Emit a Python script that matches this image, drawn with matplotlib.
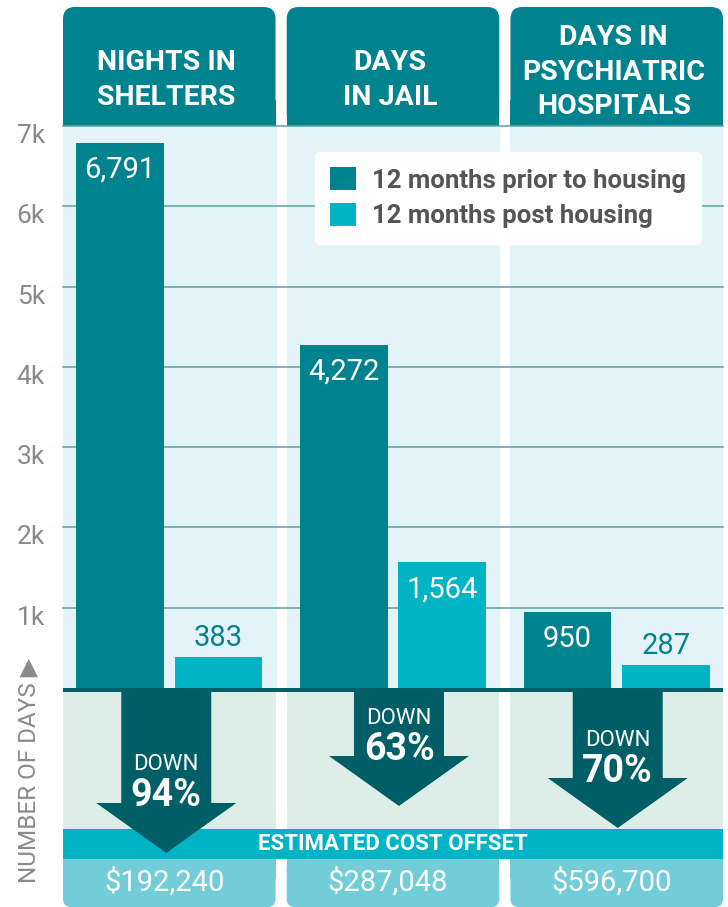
import matplotlib.pyplot as plt
from matplotlib.patches import Rectangle, FancyBboxPatch, Polygon, Patch

# Data
categories = ["NIGHTS IN\nSHELTERS", "DAYS\nIN JAIL", "DAYS IN\nPSYCHIATRIC\nHOSPITALS"]
prior = [6791, 4272, 950]
post = [383, 1564, 287]
pct_down = [94, 63, 70]
cost_offset = ["$192,240", "$287,048", "$596,700"]
series_labels = ["12 months prior to housing", "12 months post housing"]
y_ticks = [1000, 2000, 3000, 4000, 5000, 6000, 7000]
y_tick_labels = ["1k", "2k", "3k", "4k", "5k", "6k", "7k"]

# Colours
DARK = "#00838F"
LIGHT = "#00B4C5"
DEEP = "#005F66"
BG_TOP = "#E3F3F8"
BG_LOW = "#DCEEE7"
COST_BG = "#72CDD9"
GRID = "#5E9FA5"
GRAY = "#8A8A8A"

FAM = ["Roboto", "DejaVu Sans"]
plt.rcParams["font.family"] = FAM

W, H = 728, 907
fig = plt.figure(figsize=(W / 100, H / 100), dpi=100)

# pixel-space layer for the decorations around the chart
bg = fig.add_axes([0, 0, 1, 1])
bg.set_xlim(0, W)
bg.set_ylim(H, 0)
bg.axis("off")
bg.set_zorder(1)

# chart area
AX_L, AX_R, AX_T, AX_B = 63, 723, 126, 688
ax = fig.add_axes([AX_L / W, (H - AX_B) / H, (AX_R - AX_L) / W, (AX_B - AX_T) / H])
ax.set_zorder(2)
ax.patch.set_visible(False)
half = 0.475
ax.set_xlim(-half, len(categories) - 1 + half)
ax.set_ylim(0, 7000)
for s in ax.spines.values():
    s.set_visible(False)
ax.set_xticks([])
ax.set_yticks([])

unit = (AX_R - AX_L) / (len(categories) - 1 + 2 * half)


def px(u):
    return AX_L + (u + half) * unit


# panel backgrounds and gridlines
for i in range(len(categories)):
    ax.add_patch(Rectangle((i - half, 0), 2 * half, 7000, color=BG_TOP, zorder=0))
for v in y_ticks:
    ax.axhline(v, color=GRID, lw=1.1, zorder=1, clip_on=False)

# bars
x = list(range(len(categories)))
off, bw = 0.22, 0.393
ax.bar([i - off for i in x], prior, width=bw, color=DARK, zorder=2, label=series_labels[0])
ax.bar([i + off for i in x], post, width=bw, color=LIGHT, zorder=2, label=series_labels[1])

# value labels
for i in x:
    for xv, v in [(i - off, prior[i]), (i + off, post[i])]:
        if v > 600:
            ax.annotate(f"{v:,}", xy=(xv, v), xytext=(0, -27), textcoords="offset pixels",
                        ha="center", va="center", color="white", fontsize=21)
        else:
            ax.annotate(f"{v:,}", xy=(xv, v), xytext=(0, 19), textcoords="offset pixels",
                        ha="center", va="center", color=DARK, fontsize=21)

# y tick labels
for v, lab in zip(y_ticks, y_tick_labels):
    ax.annotate(lab, xy=(0, v), xycoords=("axes fraction", "data"), xytext=(-18, -10),
                textcoords="offset pixels", ha="right", va="center", color=GRAY, fontsize=19)

# legend
handles = [Patch(facecolor=DARK), Patch(facecolor=LIGHT)]
leg = ax.legend(handles, series_labels, loc="upper left",
                bbox_to_anchor=(315 / W, 1 - 152 / H), bbox_transform=fig.transFigure,
                borderaxespad=0, borderpad=0.6, handlelength=1.0, handleheight=1.0,
                handletextpad=0.6, labelspacing=0.4, frameon=True, fancybox=True,
                facecolor="white", edgecolor="white", framealpha=1,
                prop={"family": FAM, "weight": "bold", "size": 18.5}, labelcolor="#555555")
leg.set_zorder(5)

# headers, lower panels, arrows, cost boxes
header_y = [80, 80, 72]
arrow_head = [803, 756, 778]
arrow_cx_shift = [-3, 6, 1]
for i, name in enumerate(categories):
    l, r = px(i - half), px(i + half)
    w = r - l
    cx = (l + r) / 2
    bg.add_patch(FancyBboxPatch((l, 7), w, AX_T - 7, boxstyle="round,pad=0,rounding_size=12",
                                color=DARK, lw=0))
    bg.add_patch(Rectangle((l, 100), w, AX_T - 100, color=DARK, lw=0))
    bg.text(cx - 3, header_y[i], name, ha="center", va="center", color="white",
            fontsize=20.5, fontweight="bold", linespacing=1.36)

    bg.add_patch(Rectangle((l, 692), w, 829 - 692, color=BG_LOW, lw=0))

    bg.add_patch(FancyBboxPatch((l, 859), w, H - 859, boxstyle="round,pad=0,rounding_size=8",
                                color=COST_BG, lw=0))
    bg.add_patch(Rectangle((l, 859), w, 20, color=COST_BG, lw=0))
    bg.text(cx - 5, 882, cost_offset[i], ha="center", va="center", color="white", fontsize=21)

    ac = cx + arrow_cx_shift[i]
    hs = arrow_head[i]
    bg.add_patch(Polygon([(ac - 45, 692), (ac + 45, 692), (ac + 45, hs), (ac + 70, hs),
                          (ac, hs + 50), (ac - 70, hs), (ac - 45, hs)],
                         closed=True, color=DEEP, lw=0, zorder=4))
    bg.text(ac, hs - 38, "DOWN", ha="center", va="center", color="white", fontsize=16, zorder=5)
    bg.text(ac, hs - 7, f"{pct_down[i]}%", ha="center", va="center", color="white",
            fontsize=27, fontweight="bold", zorder=5)

# cost band
bg.add_patch(Rectangle((AX_L, 829), AX_R - AX_L, 30, color=LIGHT, lw=0, zorder=3))
bg.text((AX_L + AX_R) / 2, 844, "ESTIMATED COST OFFSET", ha="center", va="center",
        color="white", fontsize=16, fontweight="bold", zorder=3.5)

# baseline
bg.add_patch(Rectangle((AX_L, AX_B), AX_R - AX_L, 4, color=DEEP, lw=0, zorder=5))

# axis title
bg.text(29, 883, "NUMBER OF DAYS \u25B6", rotation=90, rotation_mode="anchor",
        ha="left", va="center", color=GRAY, fontsize=17.5)

fig.savefig("out.png", dpi=100)
